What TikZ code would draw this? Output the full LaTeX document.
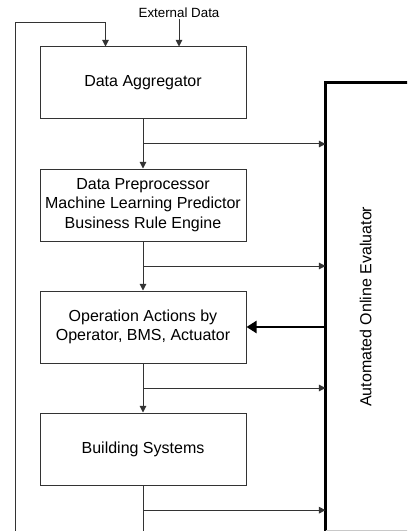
\documentclass[tikz,border=0pt]{standalone}
\usepackage{fontspec}
\setmainfont{Liberation Sans}
\usetikzlibrary{arrows.meta, positioning, calc}
\definecolor{eline}{HTML}{333333}
\definecolor{egray}{HTML}{C8C8C8}

\begin{document}
\begin{tikzpicture}[node distance=36.75pt]

\tikzstyle{box} = [rectangle, draw=eline, line width=0.75pt, fill=white, minimum width=154.5pt, minimum height=54pt, align=center, font=\fontsize{12}{14.5}\selectfont]
\tikzstyle{arrow} = [-{Triangle[length=5pt, width=5pt]}, eline, line width=0.75pt]
\tikzstyle{bold} = [-{Triangle[length=7.5pt, width=9pt]}, black, line width=1.6pt]
\tikzstyle{label} = [font=\fontsize{10}{12}\selectfont, inner sep=1pt]

\useasboundingbox (0,0) rectangle (305.25pt,-398.25pt);
\clip (0,0) rectangle (305.25pt,-398.25pt);

% Pipeline
\node[box] (agg) at (107.25pt,-62.25pt) {Data Aggregator};
\node[box, below=of agg] (pre) {Data Preprocessor\\Machine Learning Predictor\\Business Rule Engine};
\node[box, below=of pre] (ops) {Operation Actions by\\Operator, BMS, Actuator};
\node[box, below=of ops] (bldg) {Building Systems};

\draw[arrow] (agg) -- (pre);
\draw[arrow] (pre) -- (ops);
\draw[arrow] (ops) -- (bldg);

% Evaluator
\node[rectangle, minimum width=63pt, minimum height=335.25pt, anchor=north west] (eval) at ($(agg.east)+(59.25pt,0)$) {};
\node[rotate=90, font=\fontsize{12}{14.5}\selectfont] (evallabel) at ($(eval.center)+(-1.5pt,0)$) {Automated Online Evaluator};
\draw[line width=2.25pt] (eval.south west) -- (eval.north west) -- (eval.north east);
\draw[egray, line width=0.75pt] (eval.south west) -- (eval.south east);

% Taps to evaluator
\coordinate (tap1) at ($(agg.south)!0.5!(pre.north)$);
\coordinate (tap2) at ($(pre.south)!0.5!(ops.north)$);
\coordinate (tap3) at ($(ops.south)!0.5!(bldg.north)$);
\coordinate (tap4) at ($(bldg.south)+(0,-18.5pt)$);
\draw[arrow] (tap1) -- (tap1 -| eval.west);
\draw[arrow] (tap2) -- (tap2 -| eval.west);
\draw[arrow] (tap3) -- (tap3 -| eval.west);
\draw[arrow] (tap4) -- (tap4 -| eval.west);

\draw[bold] (eval.west |- ops.east) -- (ops.east);

% External input and feedback
\node[label] (ext) at (134.25pt,-9.75pt) {External Data};
\draw[arrow] (ext) -- (ext |- agg.north);

\coordinate (fbtop) at (11.75pt,-17pt);
\coordinate (fbin) at ($(agg.north west)+(49.5pt,0)$);
\draw[arrow] (bldg.south) -- ++(0,-45pt) -| (fbtop) -| (fbin);

\end{tikzpicture}
\end{document}
